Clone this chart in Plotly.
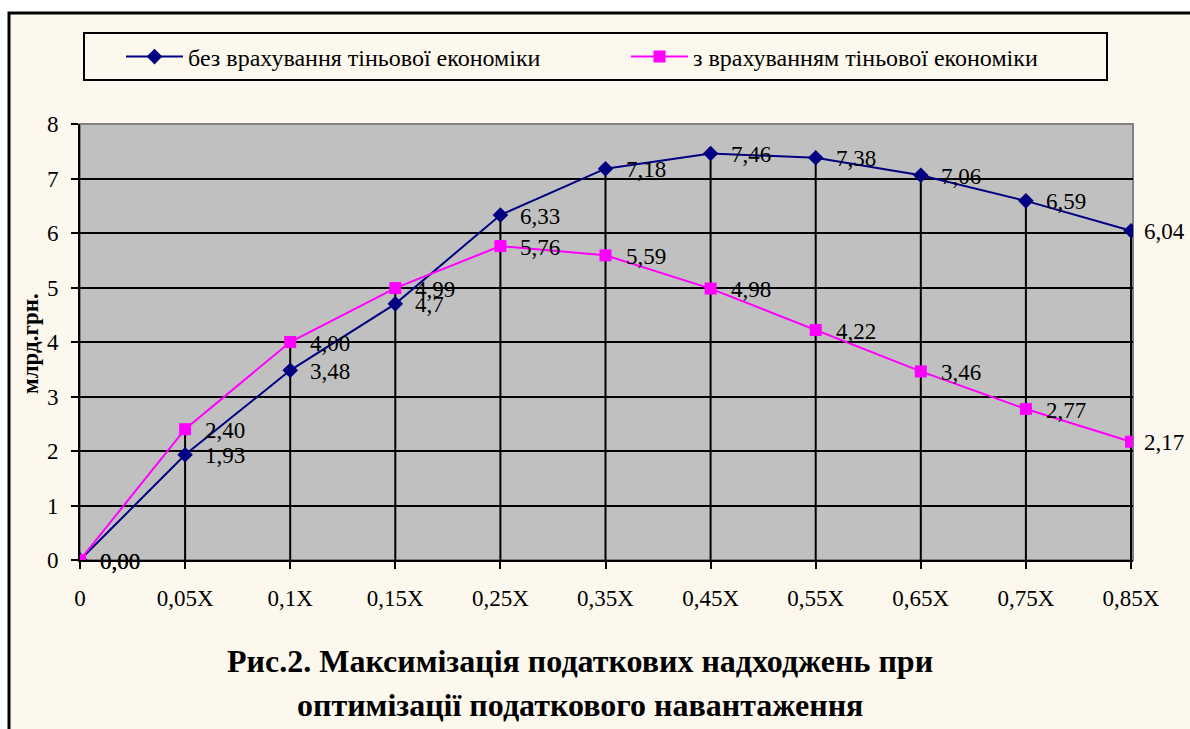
import plotly.graph_objects as go

# Tax burden levels (category axis) and revenue, bn UAH
categories = ["0", "0,05X", "0,1X", "0,15X", "0,25X", "0,35X", "0,45X",
              "0,55X", "0,65X", "0,75X", "0,85X"]
without_shadow = [0.00, 1.93, 3.48, 4.7, 6.33, 7.18, 7.46, 7.38, 7.06, 6.59, 6.04]
with_shadow = [0.00, 2.40, 4.00, 4.99, 5.76, 5.59, 4.98, 4.22, 3.46, 2.77, 2.17]
without_labels = ["0,00", "1,93", "3,48", "4,7", "6,33", "7,18", "7,46",
                  "7,38", "7,06", "6,59", "6,04"]
with_labels = ["0,00", "2,40", "4,00", "4,99", "5,76", "5,59", "4,98",
               "4,22", "3,46", "2,77", "2,17"]
y_ticks = [0, 1, 2, 3, 4, 5, 6, 7, 8]

name_without = "без врахування тіньової економіки"
name_with = "з врахуванням тіньової економіки"
title_lines = ["Рис.2. Максимізація податкових надходжень при",
               "оптимізації податкового навантаження"]
y_title = "млрд.грн."

W, H = 1190, 729
L, R, T, B = 80, 1133, 124, 560          # plot area in pixels
SERIF = "Liberation Serif"
CREAM = "#FDF8EE"
NAVY = "#000080"
MAGENTA = "#FF00FF"
TXT = 23

xs = list(range(len(categories)))
x_max = (R - L) / ((1131 - L) / (len(categories) - 1))


def px_x(p):
    return (p - L) / (R - L)


def px_y(p):
    return (B - p) / (B - T)


fig = go.Figure()

# drop lines from the higher of the two series down to the axis
drop_x, drop_y = [], []
for i, (a, b) in enumerate(zip(without_shadow, with_shadow)):
    if i == 0:
        continue
    drop_x += [i, i, None]
    drop_y += [0, max(a, b), None]
fig.add_trace(go.Scatter(x=drop_x, y=drop_y, mode="lines",
                         line=dict(color="black", width=2),
                         hoverinfo="skip", showlegend=False))

fig.add_trace(go.Scatter(x=xs, y=without_shadow, name=name_without,
                         mode="lines+markers",
                         line=dict(color=NAVY, width=2),
                         marker=dict(symbol="diamond", size=12, color=NAVY)))
fig.add_trace(go.Scatter(x=xs, y=with_shadow, name=name_with,
                         mode="lines+markers",
                         line=dict(color=MAGENTA, width=2),
                         marker=dict(symbol="square", size=12, color=MAGENTA)))

annotations = []
for vals, labels in ((without_shadow, without_labels), (with_shadow, with_labels)):
    for i, (v, t) in enumerate(zip(vals, labels)):
        annotations.append(dict(
            x=i, y=v, xref="x", yref="y", text=t, showarrow=False,
            xanchor="left", yanchor="middle",
            xshift=11 if i == len(vals) - 1 else 18, yshift=-1,
            font=dict(family=SERIF, size=TXT, color="black")))

for k, line in enumerate(title_lines):
    annotations.append(dict(
        x=px_x(580), y=px_y(661 + 44 * k), xref="paper", yref="paper",
        text="<b>" + line + "</b>", showarrow=False,
        xanchor="center", yanchor="middle",
        font=dict(family=SERIF, size=32, color="black")))

annotations.append(dict(
    x=px_x(30), y=px_y(344), xref="paper", yref="paper",
    text="<b>" + y_title + "</b>", showarrow=False, textangle=-90,
    xanchor="center", yanchor="middle",
    font=dict(family=SERIF, size=23, color="black")))

shapes = [
    # outer cream frame
    dict(type="rect", xref="paper", yref="paper", layer="below",
         x0=px_x(9), x1=px_x(W + 20), y0=px_y(H + 20), y1=px_y(13),
         fillcolor=CREAM, line=dict(color="black", width=3)),
    # grey plot area
    dict(type="rect", xref="paper", yref="paper", layer="below",
         x0=0, x1=1, y0=0, y1=1,
         fillcolor="#C0C0C0", line=dict(color="#808080", width=2)),
    # legend box
    dict(type="rect", xref="paper", yref="paper", layer="below",
         x0=px_x(84), x1=px_x(1107), y0=px_y(80), y1=px_y(33),
         fillcolor=CREAM, line=dict(color="black", width=2)),
]

fig.update_layout(
    width=W, height=H,
    margin=dict(l=L, r=W - R, t=T, b=H - B, pad=0),
    paper_bgcolor="white",
    plot_bgcolor="rgba(0,0,0,0)",
    font=dict(family=SERIF, size=TXT, color="black"),
    showlegend=True,
    legend=dict(orientation="h", x=px_x(121), y=px_y(57),
                xanchor="left", yanchor="middle",
                bgcolor="rgba(0,0,0,0)", borderwidth=0,
                entrywidth=433, entrywidthmode="pixels",
                itemwidth=57,
                font=dict(family=SERIF, size=24, color="black")),
    annotations=annotations,
    shapes=shapes,
    xaxis=dict(range=[0, x_max], tickmode="array", tickvals=xs,
               ticktext=categories, showgrid=False, zeroline=False,
               showline=True, linecolor="black", linewidth=2,
               ticks="outside", ticklen=7, tickwidth=2, tickcolor="black",
               ticklabelstandoff=9,
               tickfont=dict(family=SERIF, size=TXT, color="black"),
               fixedrange=True),
    yaxis=dict(range=[0, 8], tickmode="array", tickvals=y_ticks,
               showgrid=True, gridcolor="black", gridwidth=2, zeroline=False,
               showline=True, linecolor="black", linewidth=2,
               ticks="outside", ticklen=7, tickwidth=2, tickcolor="black",
               ticklabelstandoff=8,
               tickfont=dict(family=SERIF, size=TXT, color="black"),
               fixedrange=True),
)

fig.write_html("out.html")
